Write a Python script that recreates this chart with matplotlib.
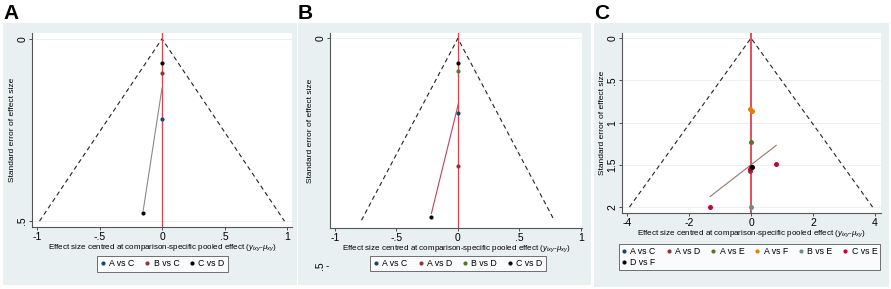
import matplotlib
matplotlib.use('Agg')
import matplotlib.pyplot as plt
from matplotlib.patches import Rectangle
from matplotlib.lines import Line2D
import numpy as np

plt.rcParams['font.family'] = ['Liberation Sans', 'DejaVu Sans']
plt.rcParams['mathtext.fontset'] = 'custom'
plt.rcParams['mathtext.it'] = 'Liberation Sans:italic'
plt.rcParams['mathtext.rm'] = 'Liberation Sans'

W, H = 891, 289

# ---- data ----
colors = {'A vs C': '#1a476f', 'A vs D': '#90353b', 'A vs E': '#55752f',
          'A vs F': '#e37e00', 'B vs E': '#6e8e84', 'B vs C': '#90353b',
          'B vs D': '#55752f', 'C vs E': '#c10534', 'C vs D': '#000000',
          'D vs F': '#000000'}

a_names = ['A vs C', 'B vs C', 'C vs D']
a_x = [[0.0], [0.0], [0.0, -0.15]]
a_se = [[0.219], [0.094], [0.067, 0.477]]
a_reg_x = [-0.15, 0.0]
a_reg_se = [0.47, 0.135]

b_names = ['A vs C', 'A vs D', 'B vs D', 'C vs D']
b_x = [[0.0], [0.0], [0.0], [0.0, -0.22]]
b_se = [[0.165], [0.28], [0.071], [0.055, 0.393]]
b_reg_x = [-0.215, 0.005]
b_reg_se = [0.385, 0.143]

c_names = ['A vs C', 'A vs D', 'A vs E', 'A vs F', 'B vs E', 'C vs E', 'D vs F']
c_x = [[0.0], [-0.03], [0.0], [-0.02, 0.04], [0.0], [0.81, -1.32, -0.02], [0.03]]
c_se = [[1.53], [1.57], [1.23], [0.84, 0.865], [2.0], [1.49, 2.0, 1.55], [1.52]]
c_reg_x = [-1.32, 0.81]
c_reg_se = [1.875, 1.27]

fig = plt.figure(figsize=(W / 100, H / 100), dpi=100)
bg = '#e9f0f2'

def px_axes(l, r, t, b):
    return fig.add_axes([l / W, 1 - b / H, (r - l) / W, (b - t) / H])

def panel(box, axbox, letter, names, xs, ses, reg_x, reg_se, reg_col,
          semax, xlim, ylim, xticks, xtl, yticks, ytl, leg_box, ncol, msize,
          leg_order=None, vline_w=0.9):
    x0, x1, y0, y1 = box
    fig.patches.append(Rectangle((x0 / W, 1 - y1 / H), (x1 - x0) / W, (y1 - y0) / H,
                                 transform=fig.transFigure, facecolor=bg,
                                 edgecolor='none', zorder=-10))
    fig.text((x0 + 0) / W, 1 - 4 / H, letter, fontsize=15, fontweight='bold',
             va='top', ha='left', family='Liberation Sans')
    ax = px_axes(*axbox)
    ax.set_facecolor('white')
    for yt in yticks:
        ax.axhline(yt, color='#ececec', lw=0.6, zorder=0)
    fx = 1.96 * semax
    ax.plot([-fx, 0, fx], [semax, 0, semax], ls=(0, (4, 3)), color='#222222', lw=0.8)
    ax.axvline(0, color='#e0404c', lw=vline_w, zorder=2)
    ax.plot(reg_x, reg_se, color=reg_col, lw=0.8, zorder=3)
    for n, x, s in zip(names, xs, ses):
        ax.plot(x, s, 'o', color=colors[n], ms=msize, mec='none', zorder=4)
    ax.set_xlim(*xlim)
    ax.set_ylim(*ylim)
    ax.set_xticks(xticks)
    ax.set_xticklabels(xtl)
    ax.set_yticks(yticks)
    ax.set_yticklabels(ytl, rotation=90, va='center')
    ax.tick_params(labelsize=7.5, length=2.5, width=0.6, color='#333333', pad=1)
    for sp in ['top', 'right']:
        ax.spines[sp].set_visible(False)
    for sp in ['left', 'bottom']:
        ax.spines[sp].set_color('#555555')
        ax.spines[sp].set_linewidth(0.8)
    ax.set_xlabel(r'Effect size centred at comparison-specific pooled effect ($y_{ixy}$-$\mu_{xy}$)',
                  fontsize=5.8, labelpad=0)
    ax.set_ylabel('Standard error of effect size', fontsize=6, labelpad=1)
    order = leg_order if leg_order else names
    handles = [Line2D([], [], ls='none', marker='o', ms=3, mec='none', color=colors[n])
               for n in order]
    l, r, t, b = leg_box
    leg = fig.legend(handles, order, loc='center',
                     bbox_to_anchor=((l + r) / 2 / W, 1 - (t + b) / 2 / H),
                     ncol=ncol, fontsize=6.3, frameon=True, fancybox=False,
                     edgecolor='#333333', handlelength=0.6, handletextpad=0.4,
                     columnspacing=1.2, borderpad=0.35, labelspacing=0.3)
    leg.get_frame().set_linewidth(0.6)
    return ax

panel((3, 297, 23, 285), (32, 292, 33, 227), 'A', a_names, a_x, a_se,
      a_reg_x, a_reg_se, '#8a8a8a', 0.5, (-1.04, 1.04), (0.516, -0.016),
      [-1, -0.5, 0, 0.5, 1], ['-1', '-.5', '0', '.5', '1'], [0, 0.5], ['0', '.5'],
      (97, 228, 255, 273), 3, 3.0)

panel((298, 591, 23, 285), (330, 582, 33, 228), 'B', b_names, b_x, b_se,
      b_reg_x, b_reg_se, '#b8445c', 0.4, (-1.04, 1.01), (0.417, -0.012),
      [-1, -0.5, 0, 0.5, 1], ['-1', '-.5', '0', '.5', '1'], [0], ['0'],
      (374, 542, 255, 272), 4, 3.0)
fig.text(320 / W, 1 - 266 / H, '.5', rotation=90, fontsize=7.5, ha='center', va='center')
fig.text(327 / W, 1 - 266 / H, '-', fontsize=7, ha='center', va='center')

c_leg_order = ['A vs C', 'D vs F', 'A vs D', 'A vs E', 'A vs F', 'B vs E', 'C vs E']
panel((594, 889, 23, 287), (622, 881, 33, 213), 'C', c_names, c_x, c_se,
      c_reg_x, c_reg_se, '#9c7464', 2.0, (-4.16, 4.19), (2.07, -0.06),
      [-4, -2, 0, 2, 4], ['-4', '-2', '0', '2', '4'], [0, 0.5, 1, 1.5, 2],
      ['0', '.5', '1', '1.5', '2'], (631, 868, 244, 270), 6, 3.6,
      leg_order=c_leg_order, vline_w=1.3)

fig.savefig('out.png', dpi=100, facecolor='white')
